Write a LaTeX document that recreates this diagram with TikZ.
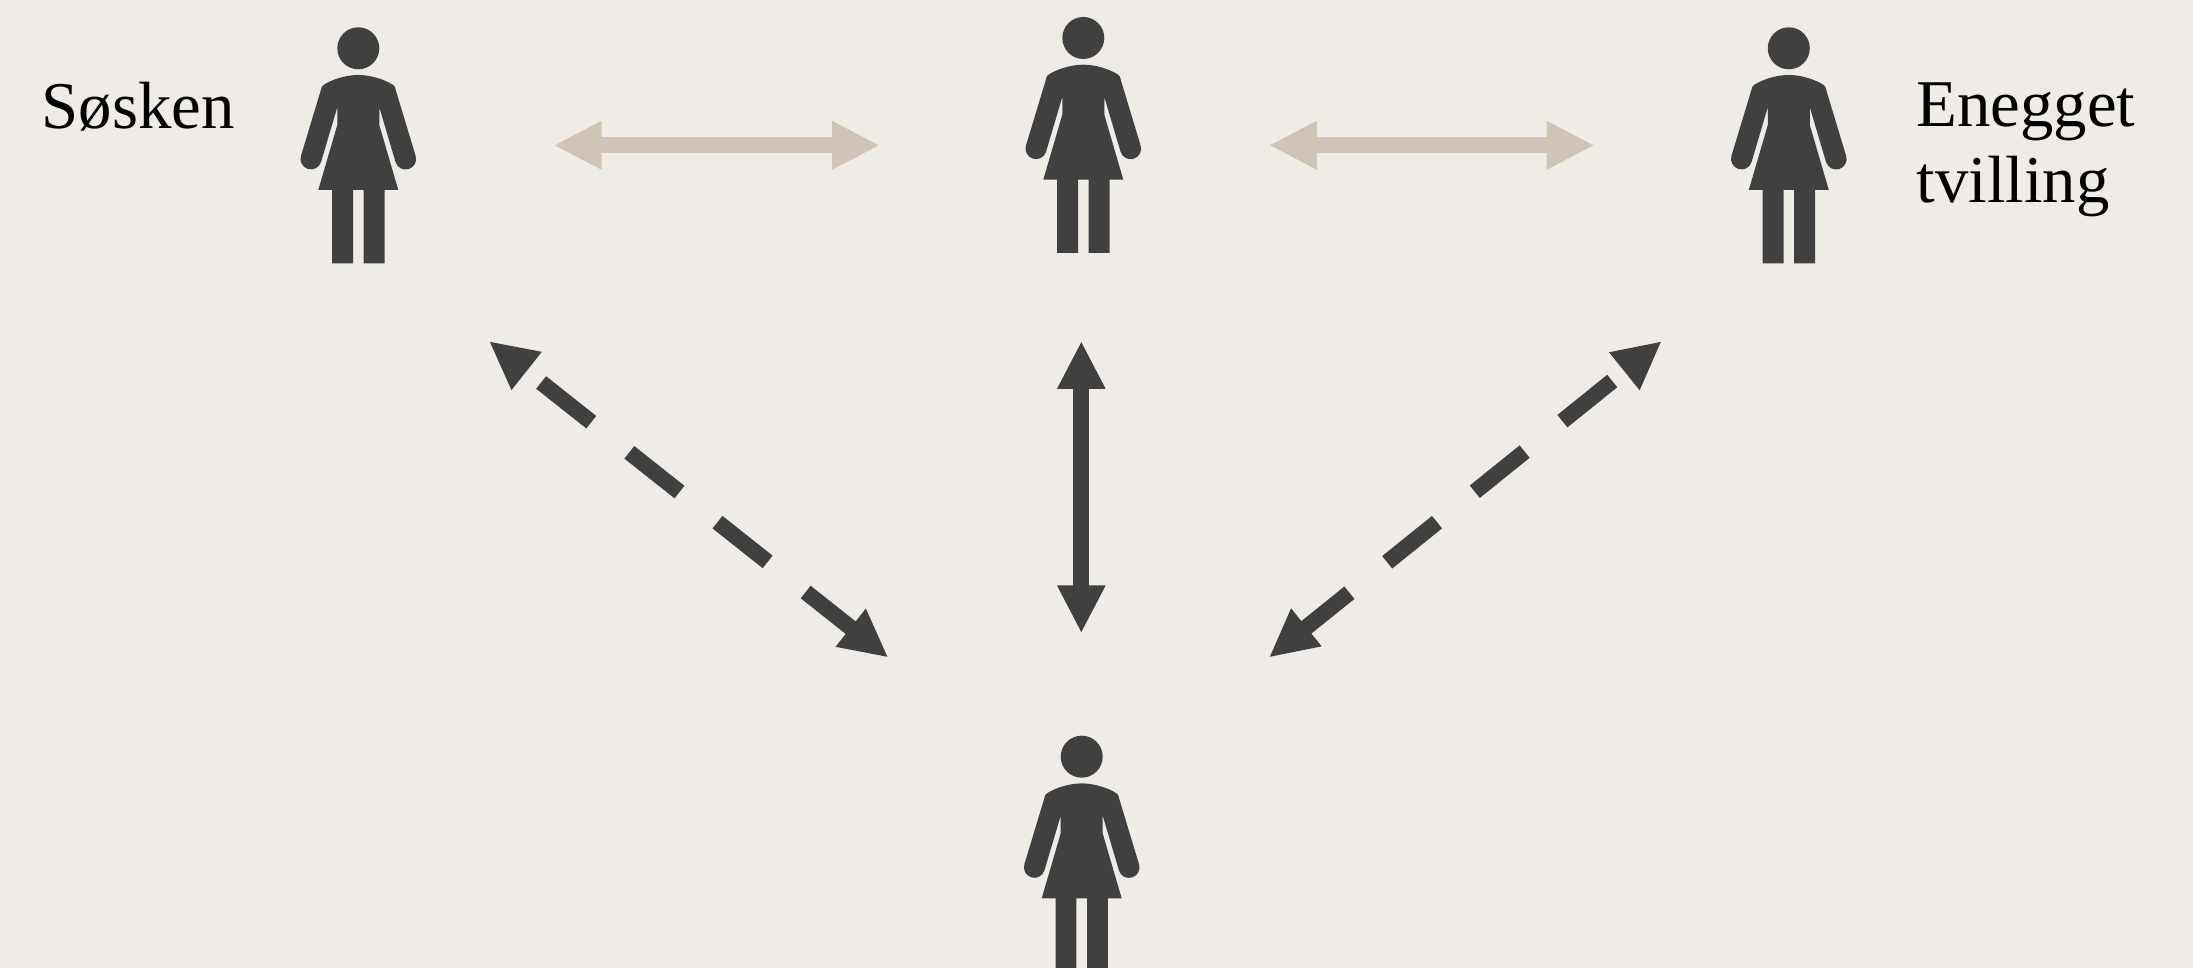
\documentclass[tikz,border=0pt]{standalone}
\usepackage{fontspec}
\setmainfont{Liberation Serif}
\usetikzlibrary{arrows.meta}
\definecolor{paperCol}{HTML}{EFECE7}
\definecolor{figCol}{HTML}{404040}
\definecolor{paleCol}{HTML}{D0C4B6}

\begin{document}
\begin{tikzpicture}[
    person/.style={rectangle, draw=none, inner sep=0pt, minimum width=1.4cm, minimum height=2.5cm,
        path picture={
            \begin{scope}[shift={(path picture bounding box.center)}]
                \fill[figCol] (0,0.97) circle (0.21);
                \fill[figCol] (0,0.703) .. controls (-0.12,0.703) and (-0.26,0.66) .. (-0.345,0.605)
                    .. controls (-0.365,0.59) .. (-0.375,0.55) -- (-0.573,-0.105)
                    arc[start angle=162.5, end angle=342.5, radius=0.105]
                    -- (-0.21,0.38) -- (-0.21,0.203) -- (-0.40,-0.447) -- (-0.262,-0.447)
                    -- (-0.262,-1.18) -- (-0.053,-1.18) -- (-0.053,-0.447) -- (0.053,-0.447)
                    -- (0.053,-1.18) -- (0.262,-1.18) -- (0.262,-0.447) -- (0.40,-0.447)
                    -- (0.21,0.203) -- (0.21,0.38) -- (0.373,-0.169)
                    arc[start angle=197.5, end angle=377.5, radius=0.105]
                    -- (0.375,0.55) .. controls (0.365,0.59) .. (0.345,0.605)
                    .. controls (0.26,0.66) and (0.12,0.703) .. (0,0.703) -- cycle;
            \end{scope}
        }},
    label/.style={inner sep=0pt, anchor=base west, align=left, text=black, font=\fontsize{19}{21.9}\selectfont},
    rel/.style={line width=0.16cm, {Triangle[length=0.48cm, width=0.45cm]}-{Triangle[length=0.48cm, width=0.45cm]}},
    relPale/.style={rel, draw=paleCol},
    relFull/.style={rel, draw=figCol},
    relDash/.style={relFull, dash pattern=on 0.64cm off 0.485cm}
]

\useasboundingbox (0,0) rectangle (21.93,9.68);
\fill[paperCol] (0,0) rectangle (21.93,9.68);

% =====================================================================
% PERSONS
% =====================================================================
\node[person] (SIBLING) at (3.583, 8.227) {};
\node[person] (SELF) at (10.833, 8.33) {};
\node[person] (TWIN) at (17.888, 8.227) {};
\node[person] (CHILD) at (10.817, 1.143) {};

% =====================================================================
% LABELS
% =====================================================================
\node[label] (lblSibling) at (0.41, 8.395) {Søsken};
\node[label] (lblTwin) at (19.16, 7.65) {Enegget\\tvilling};

% =====================================================================
% ARROW ENDS
% =====================================================================
\coordinate (a1) at (5.535, 8.227);
\coordinate (a2) at (8.80, 8.227);
\coordinate (b1) at (12.688, 8.227);
\coordinate (b2) at (15.947, 8.227);
\coordinate (c1) at (10.813, 6.27);
\coordinate (c2) at (10.813, 3.347);
\coordinate (d1) at (4.89, 6.268);
\coordinate (d2) at (8.883, 3.105);
\coordinate (e1) at (16.617, 6.268);
\coordinate (e2) at (12.69, 3.105);

% =====================================================================
% EDGES
% =====================================================================
\draw[relPale] (a1) -- (a2);
\draw[relPale] (b1) -- (b2);
\draw[relFull] (c1) -- (c2);
\draw[relDash, dash phase=0.91cm] (d1) -- (d2);
\draw[relDash, dash phase=0.94cm] (e1) -- (e2);

\end{tikzpicture}
\end{document}
